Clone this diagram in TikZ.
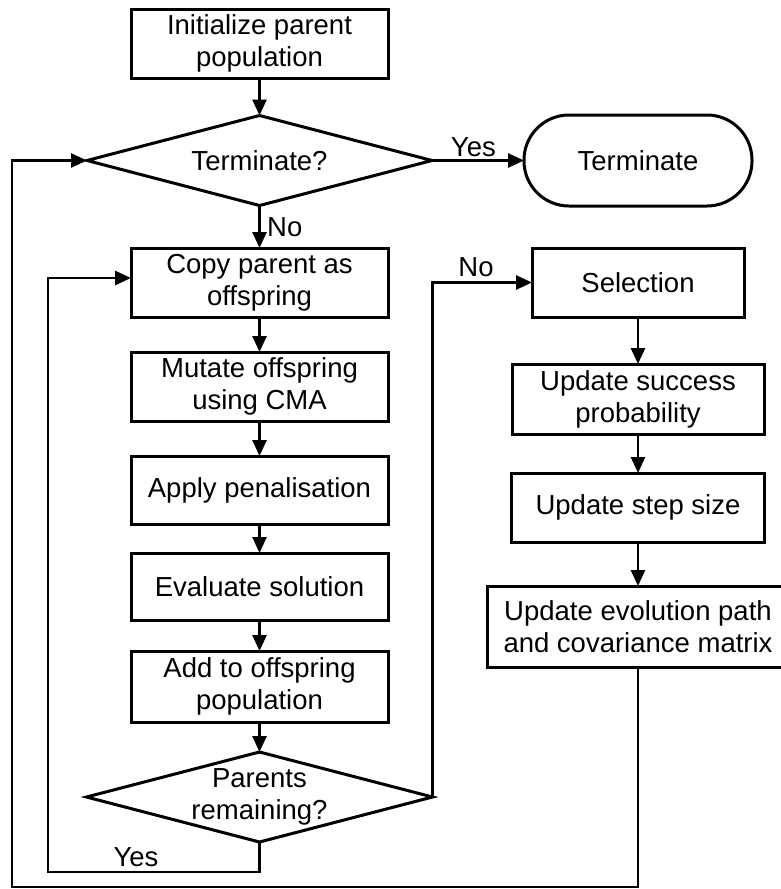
\documentclass[tikz,border=0pt]{standalone}
\usepackage{fontspec}
\setmainfont{Liberation Sans}
\usetikzlibrary{arrows.meta,shapes.geometric}
\begin{document}
\begin{tikzpicture}[x=1pt,y=-1pt,
  txt/.style={font=\fontsize{27.5}{32}\selectfont, align=center},
  box/.style={draw, line width=3pt, rectangle, txt, inner sep=0pt, outer sep=0pt},
  dia/.style={draw, line width=3pt, diamond, inner sep=0pt, outer sep=0pt},
  conn/.style={line width=2.7pt, -{Triangle[length=16pt,width=14pt]}},
  plain/.style={line width=2.7pt}]
\useasboundingbox (0,0) rectangle (781,889);

% left column
\node[box, minimum width=257pt, minimum height=69pt] (init) at (259.5,43.5) {Initialize parent\\population};
\node[dia, minimum width=345pt, minimum height=90pt,
      label={[txt]center:Terminate?}] (term) at (259.5,160.5) {};
\node[box, minimum width=257pt, minimum height=69pt] (copy) at (259.5,282.5) {Copy parent as\\offspring};
\node[box, minimum width=257pt, minimum height=69pt] (mut) at (259.5,386.5) {Mutate offspring\\using CMA};
\node[box, minimum width=257pt, minimum height=68pt] (pen) at (259.5,490) {Apply penalisation};
\node[box, minimum width=257pt, minimum height=67pt] (eval) at (259.5,586.5) {Evaluate solution};
\node[box, minimum width=257pt, minimum height=71pt] (add) at (259.5,686.5) {Add to offspring\\population};
\node[dia, minimum width=346pt, minimum height=90pt,
      label={[txt]center:Parents\\remaining?}] (par) at (259.5,797) {};

% terminal
\node[box, minimum width=228pt, minimum height=91pt, rounded corners=45pt] (end) at (638,160.5) {Terminate};

% right column
\node[box, minimum width=212pt, minimum height=69pt] (sel) at (638,282.5) {Selection};
\node[box, minimum width=252pt, minimum height=70pt] (succ) at (638,399) {Update success\\probability};
\node[box, minimum width=253pt, minimum height=69pt] (step) at (638,507.5) {Update step size};
\node[box, minimum width=302pt, minimum height=81pt] (evol) at (638,626.5) {Update evolution path\\and covariance matrix};

% loop corners
\coordinate (yb) at (48,872);
\coordinate (ob) at (12,887);

% connectors
\draw[conn] (init) -- (term);
\draw[conn] (term) -- (end) node[txt, pos=0.45, above=-1pt] (yes1) {Yes};
\draw[conn] (term) -- (copy) node[txt, midway, right=3pt] (no1) {No};
\draw[conn] (copy) -- (mut);
\draw[conn] (mut) -- (pen);
\draw[conn] (pen) -- (eval);
\draw[conn] (eval) -- (add);
\draw[conn] (add) -- (par);
\draw[conn] (par.south) |- (yb) |- ([yshift=4.5pt]copy.west);
\node[txt] (yes2) at (136,857) {Yes};
\draw[conn] (par.east) |- (sel.west);
\node[txt] (no2) at (476,267) {No};
\draw[conn] (sel) -- (succ);
\draw[conn] (succ) -- (step);
\draw[conn] (step) -- (evol);
\draw[conn] (evol.south) |- (ob) |- (term.west);
\end{tikzpicture}
\end{document}
